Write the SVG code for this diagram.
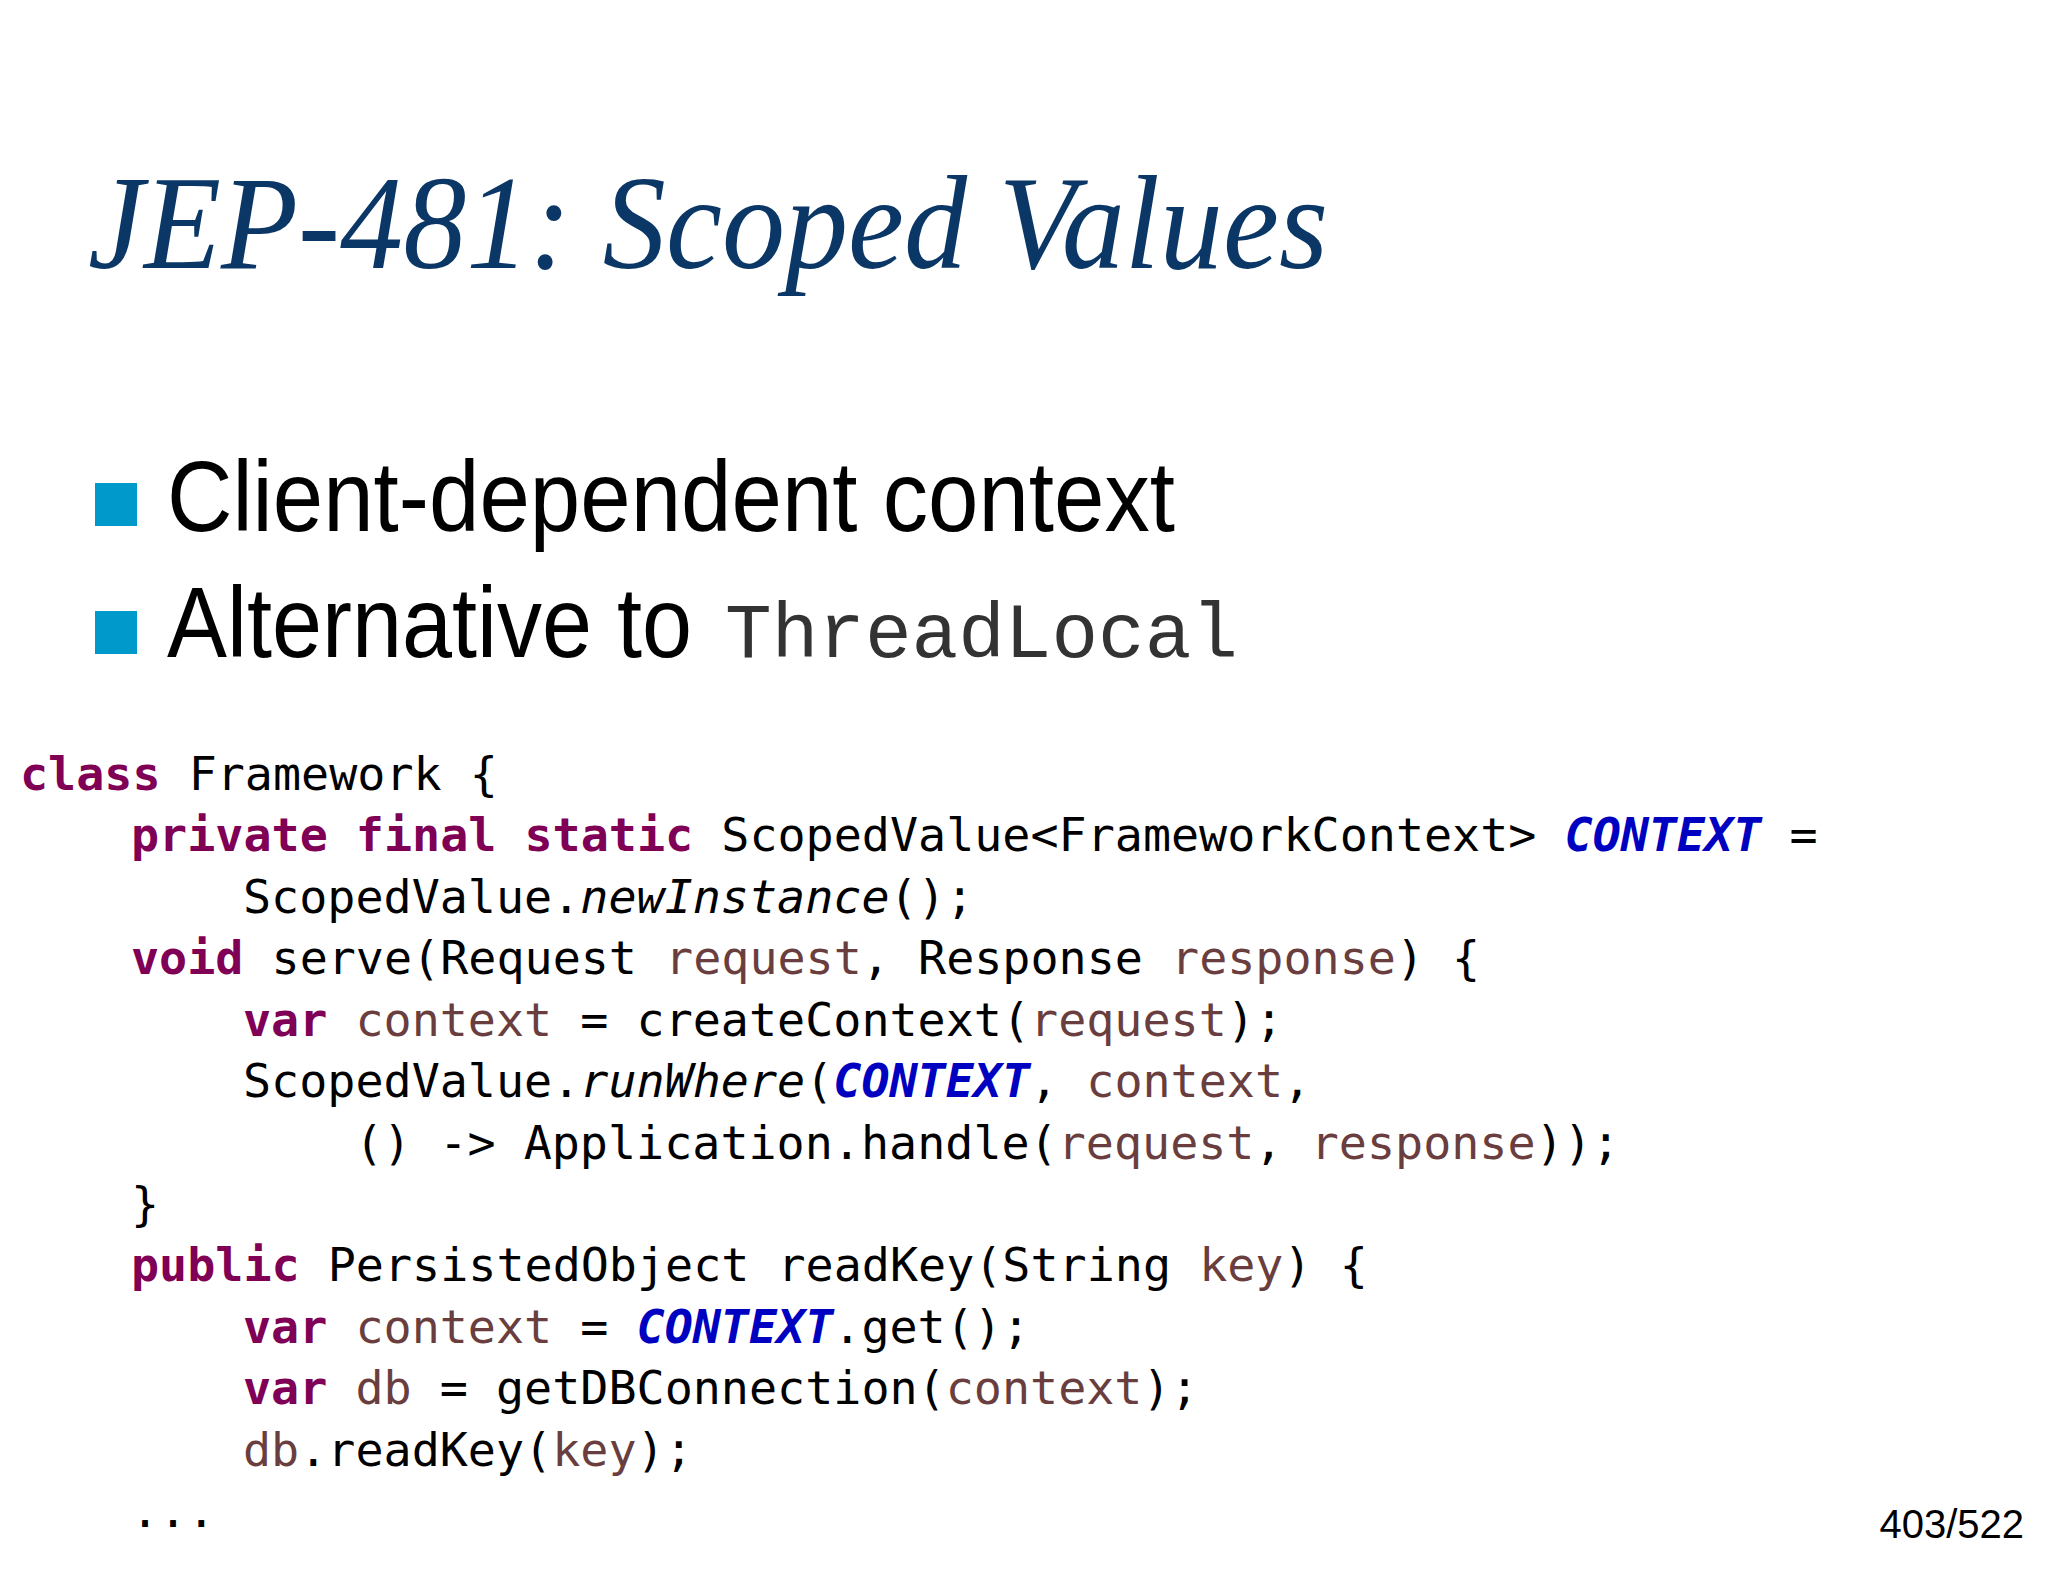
<svg xmlns="http://www.w3.org/2000/svg" width="2048" height="1582" viewBox="0 0 2048 1582">
<style>
.code{font-family:"DejaVu Sans Mono","Liberation Mono",monospace;font-size:46.7px;fill:#000}
.k{fill:#7f0055;font-weight:bold}
.v{fill:#6a3e3e}
.c{fill:#0000c0;font-weight:bold;font-style:italic}
.i{font-style:italic}
.b{font-family:"Liberation Sans",Arial,sans-serif;font-size:100px;fill:#000}
</style>
<rect width="2048" height="1582" fill="#fff"/>
<g id="title"><text x="88" y="268" font-family="Liberation Serif,serif" font-style="italic" font-size="134" fill="#0b3767" textLength="1240" lengthAdjust="spacingAndGlyphs">JEP-481: Scoped Values</text></g>
<g id="bullets">
<rect x="95" y="483" width="42" height="43" fill="#0099cc"/>
<text class="b" x="167" y="531" textLength="1008" lengthAdjust="spacingAndGlyphs">Client-dependent context</text>
<rect x="95" y="611" width="42" height="43" fill="#0099cc"/>
<text class="b" x="167" y="657" textLength="525" lengthAdjust="spacingAndGlyphs">Alternative to</text>
<text x="725" y="657" font-family="Liberation Mono,monospace" font-size="78" fill="#333" textLength="513" lengthAdjust="spacingAndGlyphs">ThreadLocal</text>
</g>
<g id="code" class="code">
<text x="20" y="790"><tspan class="k">class</tspan> Framework {</text>
<text x="131" y="851"><tspan class="k">private final static</tspan> ScopedValue&lt;FrameworkContext&gt; <tspan class="c">CONTEXT</tspan> =</text>
<text x="243" y="913">ScopedValue.<tspan class="i">newInstance</tspan>();</text>
<text x="131" y="974"><tspan class="k">void</tspan> serve(Request <tspan class="v">request</tspan>, Response <tspan class="v">response</tspan>) {</text>
<text x="243" y="1036"><tspan class="k">var</tspan> <tspan class="v">context</tspan> = createContext(<tspan class="v">request</tspan>);</text>
<text x="243" y="1097">ScopedValue.<tspan class="i">runWhere</tspan>(<tspan class="c">CONTEXT</tspan>, <tspan class="v">context</tspan>,</text>
<text x="355" y="1159">() -&gt; Application.handle(<tspan class="v">request</tspan>, <tspan class="v">response</tspan>));</text>
<text x="131" y="1220">}</text>
<text x="131" y="1281"><tspan class="k">public</tspan> PersistedObject readKey(String <tspan class="v">key</tspan>) {</text>
<text x="243" y="1343"><tspan class="k">var</tspan> <tspan class="v">context</tspan> = <tspan class="c">CONTEXT</tspan>.get();</text>
<text x="243" y="1404"><tspan class="k">var</tspan> <tspan class="v">db</tspan> = getDBConnection(<tspan class="v">context</tspan>);</text>
<text x="243" y="1466"><tspan class="v">db</tspan>.readKey(<tspan class="v">key</tspan>);</text>
<text x="131" y="1527">...</text>
</g>
<g id="page"><text x="2024" y="1538" text-anchor="end" font-family="Liberation Sans,sans-serif" font-size="40" fill="#000">403/522</text></g>
</svg>
